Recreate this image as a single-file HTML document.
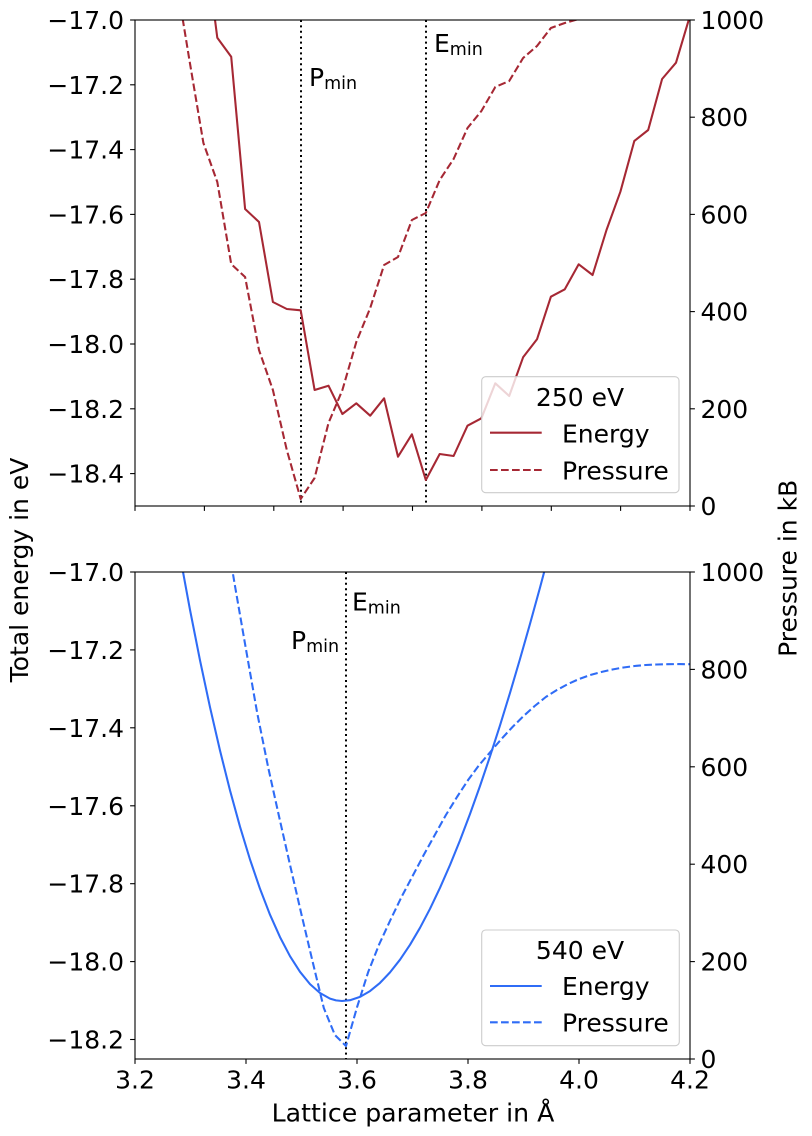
<!DOCTYPE html>
<html>
<head>
<meta charset="utf-8">
<style>
  html, body { margin:0; padding:0; background:#fff; }
  svg { display:block; }
  text { font-family: "DejaVu Sans", "Liberation Sans", sans-serif; fill:#000; }
</style>
</head>
<body>
<svg width="812" height="1136" viewBox="0 0 812 1136" xmlns="http://www.w3.org/2000/svg">
  <rect x="0" y="0" width="812" height="1136" fill="#fff"/>
  <defs>
    <clipPath id="ctop"><rect x="135" y="20" width="555" height="486"/></clipPath>
    <clipPath id="cbot"><rect x="135" y="572" width="555" height="487"/></clipPath>
  </defs>

  <!-- ================= TOP AXES ================= -->
  <g clip-path="url(#ctop)">
    <line x1="301" y1="20" x2="301" y2="506" stroke="#000" stroke-width="2" stroke-dasharray="2 3.4"/>
    <line x1="426" y1="20" x2="426" y2="506" stroke="#000" stroke-width="2" stroke-dasharray="2 3.4"/>
    <polyline fill="none" stroke="#a62834" stroke-width="2.08" stroke-linejoin="round"
      points="203.4,-70 217.3,37.7 231.2,56.7 245.1,209 259,222 272.9,302 286.8,309 300.7,310.3 314.6,390 328.5,385.7 342.4,414 356.3,403.3 370.2,415.7 384.1,398.3 398,456.7 411.9,434.3 425.8,480 439.7,454 453.6,456 467.5,425.7 481.4,418.3 495.3,383.3 509.2,396 523.1,357.3 537,339.3 550.9,296.7 564.8,289.3 578.7,264.3 592.6,275 606.5,230 620.4,191.7 634.3,141 648.2,130 662.1,79 676,62.7 689.9,16"/>
    <polyline fill="none" stroke="#a62834" stroke-width="2.08" stroke-dasharray="7.7 3.3" stroke-linejoin="round"
      points="175.5,-25 189.4,60 203.4,143 217.3,182 231.2,264 245.1,277 259,350 272.9,390 286.8,450 300.7,499 314.6,478 328.5,423 342.4,390 356.3,342 370.2,308 384.1,265 398,257 411.9,220 425.8,213 439.7,180 453.6,159 467.5,128 481.4,111 495.3,87 509.2,81 523.1,58 537,46 550.9,28 564.8,23 578.7,19 592.6,19.5 606.5,12 620.4,0"/>
  </g>
  <text x="309" y="86" font-size="25">P<tspan font-size="17.5" dy="3">min</tspan></text>
  <text x="434" y="52" font-size="25">E<tspan font-size="17.5" dy="3">min</tspan></text>

  <rect x="481.7" y="376.7" width="197.3" height="116" rx="4" ry="4" fill="rgba(255,255,255,0.8)" stroke="#cccccc" stroke-width="1.1"/>
  <text x="580" y="406" font-size="25" text-anchor="middle">250 eV</text>
  <line x1="490" y1="432.7" x2="541.7" y2="432.7" stroke="#a62834" stroke-width="2.08"/>
  <text x="562" y="442.7" font-size="25">Energy</text>
  <line x1="490" y1="470" x2="541.7" y2="470" stroke="#a62834" stroke-width="2.08" stroke-dasharray="7.7 3.3"/>
  <text x="562" y="479.3" font-size="25">Pressure</text>

  <rect x="135" y="20" width="555" height="486" fill="none" stroke="#000" stroke-width="1.1"/>
  <g stroke="#000" stroke-width="1.1">
    <line x1="130.1" y1="20" x2="135" y2="20"/>
    <line x1="130.1" y1="84.8" x2="135" y2="84.8"/>
    <line x1="130.1" y1="149.6" x2="135" y2="149.6"/>
    <line x1="130.1" y1="214.4" x2="135" y2="214.4"/>
    <line x1="130.1" y1="279.2" x2="135" y2="279.2"/>
    <line x1="130.1" y1="344" x2="135" y2="344"/>
    <line x1="130.1" y1="408.8" x2="135" y2="408.8"/>
    <line x1="130.1" y1="473.6" x2="135" y2="473.6"/>
    <line x1="690" y1="20" x2="694.9" y2="20"/>
    <line x1="690" y1="117.2" x2="694.9" y2="117.2"/>
    <line x1="690" y1="214.4" x2="694.9" y2="214.4"/>
    <line x1="690" y1="311.6" x2="694.9" y2="311.6"/>
    <line x1="690" y1="408.8" x2="694.9" y2="408.8"/>
    <line x1="690" y1="506" x2="694.9" y2="506"/>
    <line x1="135" y1="506" x2="135" y2="510.9"/>
    <line x1="204.4" y1="506" x2="204.4" y2="510.9"/>
    <line x1="273.8" y1="506" x2="273.8" y2="510.9"/>
    <line x1="343.1" y1="506" x2="343.1" y2="510.9"/>
    <line x1="412.5" y1="506" x2="412.5" y2="510.9"/>
    <line x1="481.9" y1="506" x2="481.9" y2="510.9"/>
    <line x1="551.3" y1="506" x2="551.3" y2="510.9"/>
    <line x1="620.6" y1="506" x2="620.6" y2="510.9"/>
    <line x1="690" y1="506" x2="690" y2="510.9"/>
  </g>
  <g font-size="25" text-anchor="end">
    <text x="124" y="29">−17.0</text>
    <text x="124" y="93.8">−17.2</text>
    <text x="124" y="158.6">−17.4</text>
    <text x="124" y="223.4">−17.6</text>
    <text x="124" y="288.2">−17.8</text>
    <text x="124" y="353">−18.0</text>
    <text x="124" y="417.8">−18.2</text>
    <text x="124" y="482.6">−18.4</text>
  </g>
  <g font-size="25">
    <text x="700.5" y="29">1000</text>
    <text x="700.5" y="126.2">800</text>
    <text x="700.5" y="223.4">600</text>
    <text x="700.5" y="320.6">400</text>
    <text x="700.5" y="417.8">200</text>
    <text x="700.5" y="515">0</text>
  </g>

  <!-- ================= BOTTOM AXES ================= -->
  <g clip-path="url(#cbot)">
    <line x1="346" y1="572" x2="346" y2="1059" stroke="#000" stroke-width="2" stroke-dasharray="2 3.4"/>
    <polyline fill="none" stroke="#2f6cf6" stroke-width="2.08" stroke-linejoin="round"
      points="180,555.7 190,609.8 200,660.3 210,707.2 220,750.5 230,790.4 240,826.7 250,859.5 260,888.8 270,914.7 280,937.1 290,956.2 300,971.8 310,984.1 320,993 330,998.6 336,1000.4 342,1001 350,1000.2 360,996.9 370,991.1 380,982.9 390,972.4 400,959.7 410,944.8 420,927.8 430,908.8 440,887.8 450,865 460,840.4 470,814 480,786 490,756.4 500,725.4 510,692.9 520,659 530,623.9 540,587.6 550,550.1"/>
    <polyline fill="none" stroke="#2f6cf6" stroke-width="2.08" stroke-dasharray="7.7 3.3" stroke-linejoin="round"
      points="223.9,520 235,586 246.1,650 257.2,713 268.3,768 279.4,818 290.5,867 301.6,915 312.7,962 323.8,1008 334.9,1035 346,1046 357.1,1007 368.2,972 379.3,944 390.4,920 401.5,897 412.6,876 423.7,855 434.8,835 445.9,815 457,797 468.1,780 479.2,765 490.3,752 501.4,739 512.5,727 523.6,716 534.7,706 545.8,697 556.9,690 568,684 579.1,679 590.2,675 601.3,672 612.4,669.5 623.5,667.5 634.6,666 645.7,665 656.8,664.5 667.9,664.2 679,664.1 690,664.2"/>
  </g>
  <text x="352" y="610.5" font-size="25">E<tspan font-size="17.5" dy="3">min</tspan></text>
  <text x="291" y="649" font-size="25">P<tspan font-size="17.5" dy="3">min</tspan></text>

  <rect x="481.7" y="930" width="197.6" height="115.7" rx="4" ry="4" fill="rgba(255,255,255,0.8)" stroke="#cccccc" stroke-width="1.1"/>
  <text x="580" y="959" font-size="25" text-anchor="middle">540 eV</text>
  <line x1="490" y1="986" x2="541.7" y2="986" stroke="#2f6cf6" stroke-width="2.08"/>
  <text x="562" y="995" font-size="25">Energy</text>
  <line x1="490" y1="1022.3" x2="541.7" y2="1022.3" stroke="#2f6cf6" stroke-width="2.08" stroke-dasharray="7.7 3.3"/>
  <text x="562" y="1031.7" font-size="25">Pressure</text>

  <rect x="135" y="572" width="555" height="487" fill="none" stroke="#000" stroke-width="1.1"/>
  <g stroke="#000" stroke-width="1.1">
    <line x1="130.1" y1="572" x2="135" y2="572"/>
    <line x1="130.1" y1="649.9" x2="135" y2="649.9"/>
    <line x1="130.1" y1="727.8" x2="135" y2="727.8"/>
    <line x1="130.1" y1="805.8" x2="135" y2="805.8"/>
    <line x1="130.1" y1="883.7" x2="135" y2="883.7"/>
    <line x1="130.1" y1="961.6" x2="135" y2="961.6"/>
    <line x1="130.1" y1="1039.5" x2="135" y2="1039.5"/>
    <line x1="690" y1="572" x2="694.9" y2="572"/>
    <line x1="690" y1="669.4" x2="694.9" y2="669.4"/>
    <line x1="690" y1="766.8" x2="694.9" y2="766.8"/>
    <line x1="690" y1="864.2" x2="694.9" y2="864.2"/>
    <line x1="690" y1="961.6" x2="694.9" y2="961.6"/>
    <line x1="690" y1="1059" x2="694.9" y2="1059"/>
    <line x1="135" y1="1059" x2="135" y2="1063.9"/>
    <line x1="246" y1="1059" x2="246" y2="1063.9"/>
    <line x1="357" y1="1059" x2="357" y2="1063.9"/>
    <line x1="468" y1="1059" x2="468" y2="1063.9"/>
    <line x1="579" y1="1059" x2="579" y2="1063.9"/>
    <line x1="690" y1="1059" x2="690" y2="1063.9"/>
  </g>
  <g font-size="25" text-anchor="end">
    <text x="124" y="581">−17.0</text>
    <text x="124" y="658.9">−17.2</text>
    <text x="124" y="736.8">−17.4</text>
    <text x="124" y="814.8">−17.6</text>
    <text x="124" y="892.7">−17.8</text>
    <text x="124" y="970.6">−18.0</text>
    <text x="124" y="1048.5">−18.2</text>
  </g>
  <g font-size="25">
    <text x="700.5" y="581">1000</text>
    <text x="700.5" y="678.4">800</text>
    <text x="700.5" y="775.8">600</text>
    <text x="700.5" y="873.2">400</text>
    <text x="700.5" y="970.6">200</text>
    <text x="700.5" y="1068">0</text>
  </g>
  <g font-size="25" text-anchor="middle">
    <text x="135" y="1088.5">3.2</text>
    <text x="246" y="1088.5">3.4</text>
    <text x="357" y="1088.5">3.6</text>
    <text x="468" y="1088.5">3.8</text>
    <text x="579" y="1088.5">4.0</text>
    <text x="690" y="1088.5">4.2</text>
  </g>

  <text x="413" y="1121.5" font-size="25.2" text-anchor="middle">Lattice parameter in Å</text>
  <text transform="translate(28,570) rotate(-90)" font-size="25" text-anchor="middle">Total energy in eV</text>
  <text transform="translate(796.5,568.3) rotate(-90)" font-size="25" text-anchor="middle">Pressure in kB</text>
</svg>
</body>
</html>
